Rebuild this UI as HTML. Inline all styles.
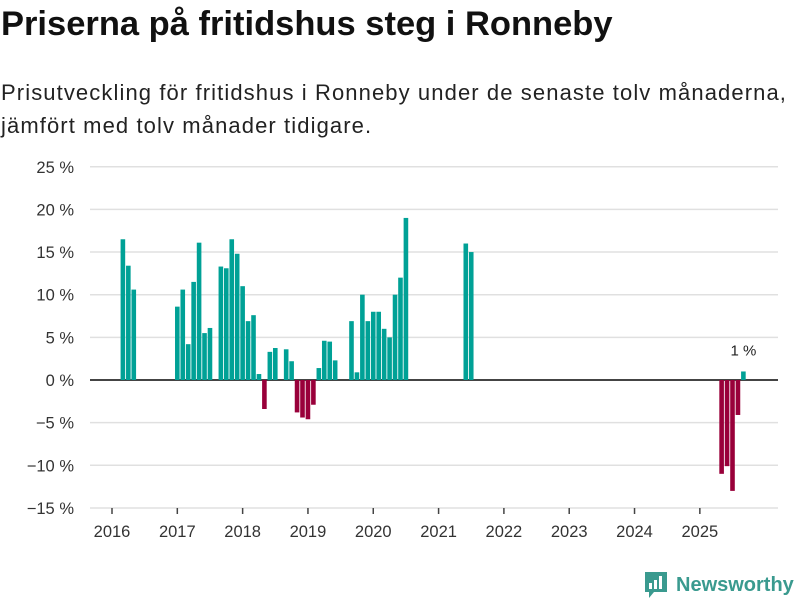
<!DOCTYPE html>
<html><head><meta charset="utf-8"><style>
body{margin:0;background:#fff;font-family:"Liberation Sans","DejaVu Sans",sans-serif;}
#wrap{position:relative;width:800px;height:600px;overflow:hidden;}
h1{position:absolute;left:1px;top:5px;margin:0;font-size:34.5px;font-weight:bold;color:#111;}
.sub{position:absolute;left:1px;top:76px;margin:0;font-size:22px;line-height:33px;color:#222;letter-spacing:1.1px;white-space:nowrap;}
svg{position:absolute;left:0;top:0;}
</style></head><body>
<div id="wrap">
<h1>Priserna på fritidshus steg i Ronneby</h1>
<p class="sub">Prisutveckling för fritidshus i Ronneby under de senaste tolv månaderna,<br>jämfört med tolv månader tidigare.</p>
<svg id="chart" width="800" height="600"></svg>
<div style="position:absolute;left:644px;top:570px;display:flex;align-items:center;">
<svg width="24" height="30" viewBox="0 0 24 30" style="position:static"><path d="M1 2h22v20H10l-5 6v-6H1z" fill="#3a9a8f"/><rect x="5" y="13" width="3" height="6" fill="#fff"/><rect x="10" y="10" width="3" height="9" fill="#fff"/><rect x="15" y="6" width="3" height="13" fill="#fff"/></svg>
<span style="font-size:20px;color:#3a9a8f;font-weight:bold;margin-left:8px;">Newsworthy</span></div>
</div>
<script>
// month index from Jan 2016
const months = [2,3,4, 12,13,14,15,16,17,18, 20,21,22,23,24,25,26,27,28,29,30, 32,33,34,35,36,37,38,39,40,41, 44,45,46,47,48,49,50,51,52,53,54, 65,66, 112,113,114,115,116];
const values = [16.5,13.4,10.6, 8.6,10.6,4.2,11.5,16.1,5.5,6.1, 13.3,13.1,16.5,14.8,11.0,6.9,7.6,0.7,-3.4,3.3,3.75, 3.6,2.2,-3.8,-4.4,-4.6,-2.9,1.4,4.6,4.5,2.3, 6.9,0.9,10.0,6.9,8.0,8.0,6.0,5.0,10.0,12.0,19.0, 16.0,15.0, -11.0,-10.1,-13.0,-4.1,1.0];
const yTicks = [25,20,15,10,5,0,-5,-10,-15];
const yearLabels = ["2016","2017","2018","2019","2020","2021","2022","2023","2024","2025"];
const NS="http://www.w3.org/2000/svg";
const svg=document.getElementById('chart');
const y=v=>380-v*8.53;
const x=m=>112+m*5.443;
function mk(t,a){const e=document.createElementNS(NS,t);for(const k in a)e.setAttribute(k,a[k]);svg.appendChild(e);return e;}
yTicks.forEach(t=>{
  const l=mk('line',{x1:90,x2:778,y1:y(t),y2:y(t),stroke:t===0?'#444':'#e0e0e0','stroke-width':t===0?2:1.5});
  
  
  const tx=mk('text',{x:74,y:y(t)+6,'text-anchor':'end','font-size':16.5,fill:'#333'});
  tx.textContent=(t<0?'\u2212'+(-t):t)+' %';
  
  
});
yearLabels.forEach((yr,i)=>{
  const xx=x(i*12);
  const tk=mk('line',{x1:xx,x2:xx,y1:508,y2:514,stroke:'#444','stroke-width':1.5});
  
  
  const tx=mk('text',{x:xx,y:537,'text-anchor':'middle','font-size':16.5,fill:'#333'});
  tx.textContent=yr;
  
  
});
months.forEach((m,i)=>{
  const v=values[i];
  const r=mk('rect',{x:x(m)-2.3,width:4.6,y:Math.min(y(v),y(0)),height:Math.abs(y(v)-y(0)),fill:v>=0?'#00a196':'#99003a'});
  
  
});
const li=values.length-1;
const lb=mk('text',{x:x(months[li]),y:y(values[li])-16,'text-anchor':'middle','font-size':15,fill:'#222'});
lb.textContent=Math.round(values[li])+' %';


</script>
</body></html>
